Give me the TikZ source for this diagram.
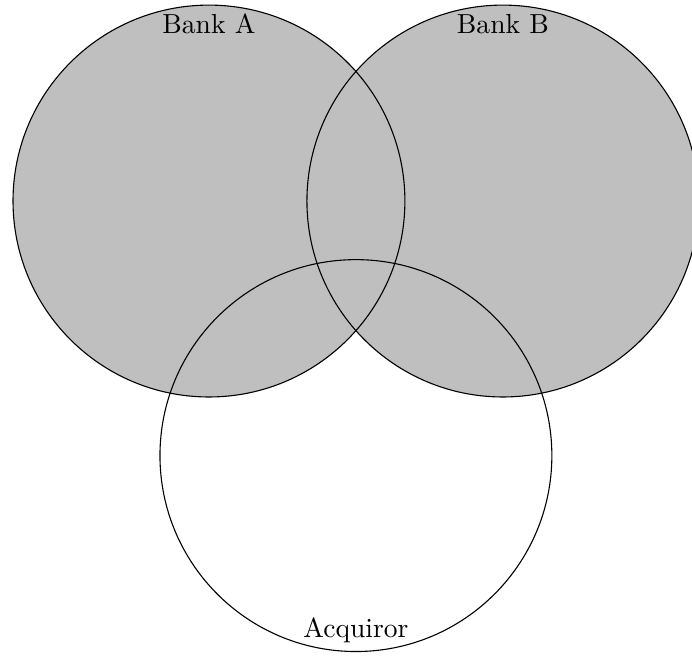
\documentclass[tikz,border=0pt]{standalone}
\begin{document}
\begin{tikzpicture}[scale=1,set/.style={circle,draw,minimum size=5cm,inner sep=0pt}]
    \useasboundingbox (-2.666,-5.793) rectangle (6.163,2.565);
    \fill[gray!50] (0,0) circle (2.5cm) (3.75,0) circle (2.5cm);
    \node (bankA) at (0,0) [set] {};
    \node (bankB) at (3.75,0) [set] {};
    \node (acq) at (1.875,-3.2476) [set] {};
    \node (labA) at (bankA.north) [below] {Bank A};
    \node (labB) at (bankB.north) [below] {Bank B};
    \node (labC) at (acq.south) [above] {Acquiror};
  \end{tikzpicture}
\end{document}
